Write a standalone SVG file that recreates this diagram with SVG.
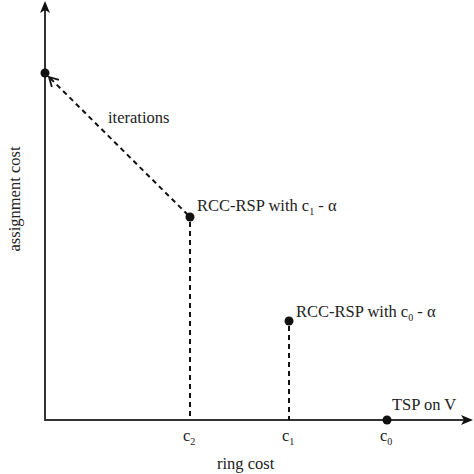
<svg xmlns="http://www.w3.org/2000/svg" width="474" height="474" viewBox="0 0 474 474">
<style>
.t{font-family:'Liberation Serif',serif;font-size:16.5px;fill:#222}
.sub{font-size:10px}
.axis{stroke:#333;stroke-width:2;fill:none}
.dash{stroke:#111;stroke-width:2;stroke-dasharray:5,4;fill:none}
.dot{fill:#111}
</style>
<defs>
<marker id="ah" markerWidth="12" markerHeight="10" refX="10" refY="5" orient="auto" markerUnits="userSpaceOnUse">
<path d="M0,0 L12,5 L0,10 L3,5 Z" fill="#111"/>
</marker>
<marker id="open" markerWidth="12" markerHeight="12" refX="10" refY="6" orient="auto" markerUnits="userSpaceOnUse">
<path d="M1,1 L10,6 L1,11" fill="none" stroke="#111" stroke-width="1.8"/>
</marker>
</defs>
<g id="axes">
<line class="axis" x1="45" y1="420" x2="45" y2="3" marker-end="url(#ah)"/>
<line class="axis" x1="44" y1="420" x2="471" y2="420" marker-end="url(#ah)"/>
</g>
<g id="connectors">
<line class="dash" x1="188" y1="215" x2="49" y2="77" marker-end="url(#open)"/>
<line class="dash" x1="190" y1="222" x2="190" y2="420"/>
<line class="dash" x1="289" y1="326" x2="289" y2="420"/>
</g>
<g id="n0"><circle class="dot" cx="45" cy="73" r="4.5"/></g>
<g id="n1"><circle class="dot" cx="190" cy="217" r="4.5"/>
<text class="t" x="197" y="211" font-family="Liberation Serif">RCC-RSP with c<tspan class="sub" dy="4">1</tspan><tspan dy="-4"> - α</tspan></text></g>
<g id="n2"><circle class="dot" cx="289" cy="321" r="4.5"/>
<text class="t" x="296" y="317" font-family="Liberation Serif">RCC-RSP with c<tspan class="sub" dy="4">0</tspan><tspan dy="-4"> - α</tspan></text></g>
<g id="n3"><circle class="dot" cx="387" cy="420" r="4.5"/>
<text class="t" x="392" y="410" font-family="Liberation Serif">TSP on V</text></g>
<text class="t" x="108" y="123" font-family="Liberation Serif">iterations</text>
<text class="t" x="183" y="441" font-family="Liberation Serif">c<tspan class="sub" dy="4">2</tspan></text>
<text class="t" x="282" y="441" font-family="Liberation Serif">c<tspan class="sub" dy="4">1</tspan></text>
<text class="t" x="380" y="441" font-family="Liberation Serif">c<tspan class="sub" dy="4">0</tspan></text>
<text class="t" x="217" y="469" font-family="Liberation Serif">ring cost</text>
<text class="t" transform="translate(20,199) rotate(-90)" text-anchor="middle" font-family="Liberation Serif">assignment cost</text>
</svg>
